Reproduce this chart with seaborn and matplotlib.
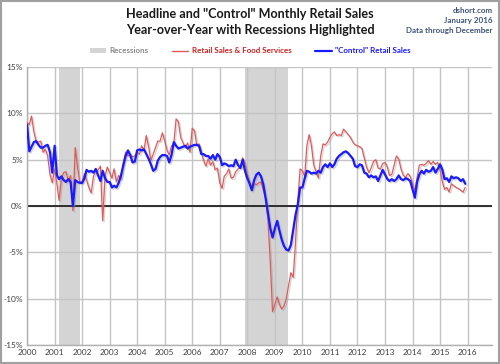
import numpy as np
import pandas as pd
import matplotlib
matplotlib.use("Agg")
import matplotlib.pyplot as plt
import matplotlib.dates as mdates
import matplotlib.patheffects as pe
from matplotlib.patches import Patch, Rectangle
from matplotlib.lines import Line2D
import seaborn as sns

# ── Data (YoY %, monthly, Jan 2000 – Dec 2015) ───────────────────────
headline = [
    9.0, 8.8, 9.7, 8.0, 7.0, 6.9, 7.0, 5.8, 6.1, 5.4, 3.4, 2.5,      # 2000
    4.0, 2.4, 0.6, 2.9, 3.6, 3.7, 2.7, 3.3, -0.5, 6.3, 4.2, 2.6,     # 2001
    2.6, 3.5, 2.8, 2.0, 1.4, 3.2, 3.8, 3.9, 4.3, -1.6, 3.2, 4.2,     # 2002
    3.6, 3.0, 4.0, 2.6, 3.3, 2.9, 4.6, 5.8, 5.4, 5.6, 5.3, 5.4,      # 2003
    5.8, 5.6, 6.5, 6.0, 7.6, 6.4, 4.9, 5.6, 6.3, 7.0, 7.0, 7.9,      # 2004
    7.0, 6.0, 5.5, 6.5, 6.7, 9.4, 9.1, 7.4, 6.8, 6.3, 6.8, 5.8,      # 2005
    8.4, 8.1, 6.6, 6.7, 5.8, 4.9, 4.3, 5.1, 4.4, 4.8, 3.9, 4.1,      # 2006
    2.5, 1.9, 3.2, 3.5, 4.0, 3.0, 3.1, 3.7, 4.0, 4.2, 5.2, 4.6,      # 2007
    3.4, 2.6, 1.8, 2.4, 2.3, 2.5, 2.6, 1.7, 0.8, -1.5, -6.0, -11.4,  # 2008
    -10.6, -9.8, -10.6, -11.1, -10.8, -10.0, -8.6, -7.2, -7.7, -4.0, 0.5, 4.0,  # 2009
    3.8, 3.2, 6.5, 7.7, 6.5, 4.4, 3.7, 3.0, 5.4, 6.7, 6.6, 6.9,      # 2010
    7.4, 7.8, 8.0, 7.6, 7.7, 7.6, 8.3, 8.0, 7.7, 7.4, 6.9, 6.6,      # 2011
    6.5, 6.4, 6.2, 5.2, 4.2, 3.6, 4.1, 4.8, 5.0, 4.1, 4.0, 4.6,      # 2012
    4.7, 4.2, 3.3, 3.4, 4.4, 5.4, 5.1, 4.0, 3.3, 3.1, 3.5, 3.2,      # 2013
    2.4, 1.6, 3.0, 4.4, 4.5, 4.4, 4.6, 4.9, 4.5, 4.8, 4.5, 4.7,      # 2014
    3.9, 2.6, 1.8, 2.0, 1.5, 2.4, 2.2, 2.0, 1.9, 1.7, 1.5, 2.0,      # 2015
]
control = [
    8.8, 5.9, 6.4, 6.9, 7.0, 6.6, 6.3, 6.3, 6.5, 6.6, 5.8, 3.6,      # 2000
    6.5, 3.3, 2.9, 3.2, 2.8, 2.6, 2.9, 2.6, 0.0, 2.8, 2.6, 2.5,      # 2001
    2.5, 3.0, 3.9, 3.7, 3.8, 3.6, 4.0, 3.3, 2.7, 3.8, 3.0, 2.6,      # 2002
    2.6, 2.0, 2.2, 2.0, 2.5, 3.3, 4.4, 5.4, 6.0, 5.5, 4.7, 4.8,      # 2003
    6.0, 6.1, 6.0, 6.1, 5.6, 5.1, 4.5, 3.8, 4.0, 4.9, 5.3, 5.5,      # 2004
    5.5, 5.4, 4.7, 5.5, 6.9, 6.5, 6.2, 6.3, 6.4, 6.5, 6.2, 6.4,      # 2005
    6.5, 6.6, 6.6, 6.5, 5.6, 5.6, 5.4, 5.4, 5.1, 5.5, 5.0, 5.6,      # 2006
    5.3, 4.4, 4.6, 4.5, 4.3, 4.4, 4.3, 5.0, 4.4, 4.1, 5.0, 3.8,      # 2007
    3.0, 2.4, 1.7, 2.8, 3.4, 3.6, 3.2, 2.3, 0.8, -0.8, -2.4, -3.4,   # 2008
    -2.4, -1.6, -2.6, -3.6, -4.3, -4.7, -4.8, -4.2, -2.6, -1.0, 0.2, 2.0,  # 2009
    2.0, 3.0, 3.8, 3.7, 3.5, 3.6, 3.5, 3.8, 3.6, 4.2, 4.5, 4.2,      # 2010
    4.6, 4.2, 4.5, 5.1, 5.4, 5.6, 5.8, 5.9, 5.7, 5.4, 5.1, 4.3,      # 2011
    4.2, 4.5, 4.4, 3.6, 3.5, 3.1, 3.3, 3.1, 3.2, 2.7, 3.3, 3.9,      # 2012
    3.4, 2.9, 2.7, 2.9, 2.7, 2.9, 3.3, 2.9, 2.8, 3.0, 2.9, 2.7,      # 2013
    1.8, 0.9, 2.6, 3.4, 3.8, 3.5, 3.9, 3.7, 3.8, 4.2, 3.6, 4.0,      # 2014
    4.5, 3.9, 2.9, 3.0, 2.6, 3.2, 3.0, 3.1, 3.0, 2.7, 2.9, 2.4,      # 2015
]
recessions = [("2001-03-01", "2001-11-30"), ("2007-12-01", "2009-06-30")]
y_ticks = [-15, -10, -5, 0, 5, 10, 15]
series_names = ["Retail Sales & Food Services", '"Control" Retail Sales']

months = pd.date_range("2000-01-01", periods=len(headline), freq="MS")
df = pd.DataFrame({"date": months, "headline": headline, "control": control})

# ── Figure ───────────────────────────────────────────────────────────
sns.set_theme(style="white")
plt.rcParams["font.family"] = ["Lato", "DejaVu Sans"]

fig = plt.figure(figsize=(5, 3.64), dpi=100)
ax = fig.add_axes([0.054, 0.052, 0.93, 0.764])

for start, end in recessions:
    ax.axvspan(pd.Timestamp(start), pd.Timestamp(end), color="#d4d4d4", lw=0, zorder=0)

shadow = [pe.SimpleLineShadow(offset=(1, -1), shadow_color="#888888", alpha=0.35), pe.Normal()]
sns.lineplot(data=df, x="date", y="headline", ax=ax, color="#e05a5a", lw=0.9,
             path_effects=shadow, zorder=3)
sns.lineplot(data=df, x="date", y="control", ax=ax, color="#1a1aff", lw=1.6,
             path_effects=shadow, zorder=4)

ax.set_xlim(pd.Timestamp("2000-01-01"), pd.Timestamp("2016-11-20"))
ax.set_ylim(-15, 15)
ax.set_yticks(y_ticks)
ax.set_yticklabels([f"{v}%" for v in y_ticks])
ax.xaxis.set_major_locator(mdates.YearLocator())
ax.xaxis.set_major_formatter(mdates.DateFormatter("%Y"))
ax.tick_params(axis="both", length=0, labelsize=6, colors="#404040", pad=3)
ax.set_xlabel("")
ax.set_ylabel("")

ax.grid(True, color="#c4c4c4", lw=1.0)
ax.set_axisbelow(True)
ax.axhline(0, color="#222222", lw=1.3, zorder=2)
for side in ["top", "right"]:
    ax.spines[side].set_visible(False)
for side in ["left", "bottom"]:
    ax.spines[side].set_color("#b0b0b0")
    ax.spines[side].set_linewidth(1.0)

# ── Titles and notes ─────────────────────────────────────────────────
fig.text(0.5, 0.962, 'Headline and "Control" Monthly Retail Sales', ha="center", va="center",
         fontsize=9.1, fontweight="bold", color="#1a1a1a")
fig.text(0.5, 0.918, "Year-over-Year with Recessions Highlighted", ha="center", va="center",
         fontsize=9.1, fontweight="bold", color="#1a1a1a")
note_color = "#3e5478"
fig.text(0.986, 0.972, "dshort.com", ha="right", va="center", fontsize=5.8,
         fontweight="bold", color=note_color)
fig.text(0.986, 0.944, "January 2016", ha="right", va="center", fontsize=5.8,
         fontweight="bold", color=note_color)
fig.text(0.986, 0.916, "Data through December", ha="right", va="center", fontsize=5.8,
         fontweight="bold", color=note_color)

handles = [
    Patch(facecolor="#d4d4d4", edgecolor="none", label="Recessions"),
    Line2D([], [], color="#e05a5a", lw=1.0, label=series_names[0]),
    Line2D([], [], color="#1a1aff", lw=1.6, label=series_names[1]),
]
leg = fig.legend(handles=handles, loc="center", bbox_to_anchor=(0.5, 0.86), ncol=3,
                 frameon=False, fontsize=5.8, handlelength=2.0, handleheight=0.6,
                 columnspacing=3.0, handletextpad=0.4)
for txt, col in zip(leg.get_texts(), ["#8a8a8a", "#cc2222", "#1a1aff"]):
    txt.set_color(col)
    txt.set_fontweight("bold")

fig.add_artist(Rectangle((0.002, 0.003), 0.995, 0.994, transform=fig.transFigure,
                         fill=False, edgecolor="#a0a0a0", lw=1.5))

fig.savefig("out.png", dpi=100)
plt.close(fig)
